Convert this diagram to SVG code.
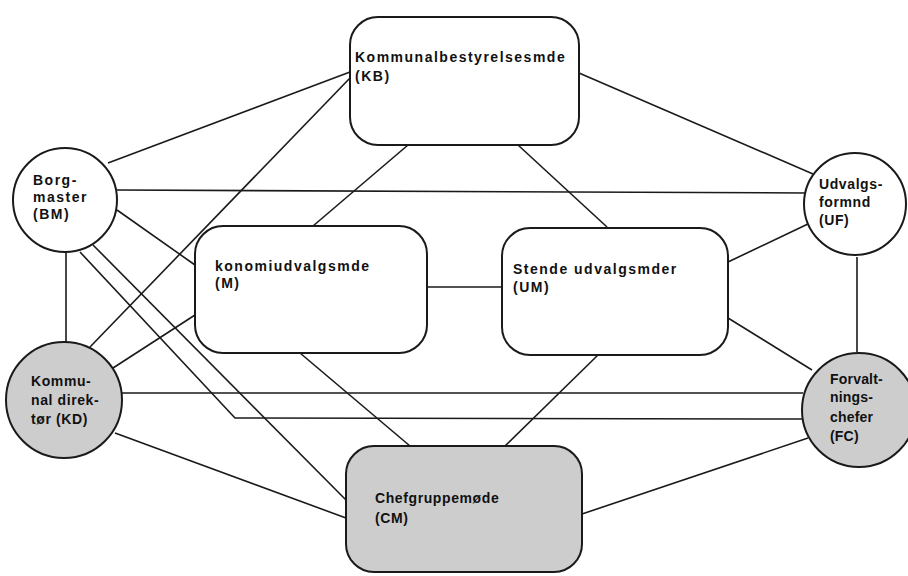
<svg xmlns="http://www.w3.org/2000/svg" width="908" height="576" viewBox="0 0 908 576">
<style>
.ln{stroke:#1a1a1a;stroke-width:1.6;fill:none}
.nd{stroke:#1a1a1a;stroke-width:2;fill:#fff}
.gr{fill:#cdcdcd}
.t{font-family:"Liberation Sans",Arial,sans-serif;font-weight:bold;font-size:14px;fill:#111;letter-spacing:1.5px}
</style>
<rect width="908" height="576" fill="#fff"/>
<g id="connectors">
<line class="ln" x1="108" y1="163" x2="350" y2="72"/>
<line class="ln" x1="117" y1="190" x2="808" y2="193"/>
<line class="ln" x1="117" y1="210" x2="195" y2="265"/>
<line class="ln" x1="66" y1="252" x2="66" y2="342"/>
<polyline class="ln" points="80,252 235,418 804,419"/>
<line class="ln" x1="93" y1="245" x2="346" y2="500"/>
<line class="ln" x1="408" y1="145" x2="313" y2="226"/>
<line class="ln" x1="518" y1="145" x2="607" y2="227"/>
<line class="ln" x1="579" y1="73" x2="813" y2="174"/>
<line class="ln" x1="350" y1="78" x2="90" y2="347"/>
<line class="ln" x1="195" y1="315" x2="113" y2="368"/>
<line class="ln" x1="300" y1="353" x2="410" y2="446"/>
<line class="ln" x1="598" y1="355" x2="505" y2="446"/>
<line class="ln" x1="728" y1="262" x2="810" y2="223"/>
<line class="ln" x1="728" y1="318" x2="812" y2="370"/>
<line class="ln" x1="857" y1="257" x2="857" y2="352"/>
<line class="ln" x1="122" y1="393" x2="803" y2="393"/>
<line class="ln" x1="115" y1="433" x2="346" y2="518"/>
<line class="ln" x1="582" y1="514" x2="808" y2="438"/>
<line class="ln" x1="427" y1="287" x2="502" y2="287"/>
</g>
<g id="KB">
<rect class="nd" x="350" y="17" width="229" height="128" rx="28"/>
<text class="t" x="355" y="62">Kommunalbestyrelsesmde</text>
<text class="t" x="355" y="81">(KB)</text>
</g>
<g id="BM">
<circle class="nd" cx="65" cy="200" r="52"/>
<text class="t" x="33" y="185">Borg-</text>
<text class="t" x="33" y="202">master</text>
<text class="t" x="33" y="219">(BM)</text>
</g>
<g id="UF">
<circle class="nd" cx="855" cy="204" r="51"/>
<text class="t" x="819" y="189" style="letter-spacing:0.6px">Udvalgs-</text>
<text class="t" x="819" y="207" style="letter-spacing:0.6px">formnd</text>
<text class="t" x="819" y="225" style="letter-spacing:0.6px">(UF)</text>
</g>
<g id="M">
<rect class="nd" x="195" y="226" width="232" height="127" rx="28"/>
<text class="t" x="215" y="271">konomiudvalgsmde</text>
<text class="t" x="215" y="288">(M)</text>
</g>
<g id="UM">
<rect class="nd" x="502" y="228" width="226" height="127" rx="28"/>
<text class="t" x="513" y="274">Stende udvalgsmder</text>
<text class="t" x="513" y="292">(UM)</text>
</g>
<g id="KD">
<circle class="nd gr" cx="64" cy="400" r="58"/>
<text class="t" x="31" y="386" style="letter-spacing:0.6px">Kommu-</text>
<text class="t" x="31" y="405" style="letter-spacing:0.6px">nal direk-</text>
<text class="t" x="31" y="424" style="letter-spacing:0.6px">tør (KD)</text>
</g>
<g id="FC">
<circle class="nd gr" cx="859" cy="410" r="57"/>
<text class="t" x="830" y="384" style="letter-spacing:0.2px">Forvalt-</text>
<text class="t" x="830" y="402" style="letter-spacing:0.2px">nings-</text>
<text class="t" x="830" y="422" style="letter-spacing:0.2px">chefer</text>
<text class="t" x="830" y="441" style="letter-spacing:0.2px">(FC)</text>
</g>
<g id="CM">
<rect class="nd gr" x="346" y="446" width="236" height="126" rx="28"/>
<text class="t" x="375" y="503" style="letter-spacing:0.6px">Chefgruppemøde</text>
<text class="t" x="375" y="523" style="letter-spacing:0.6px">(CM)</text>
</g>
</svg>
